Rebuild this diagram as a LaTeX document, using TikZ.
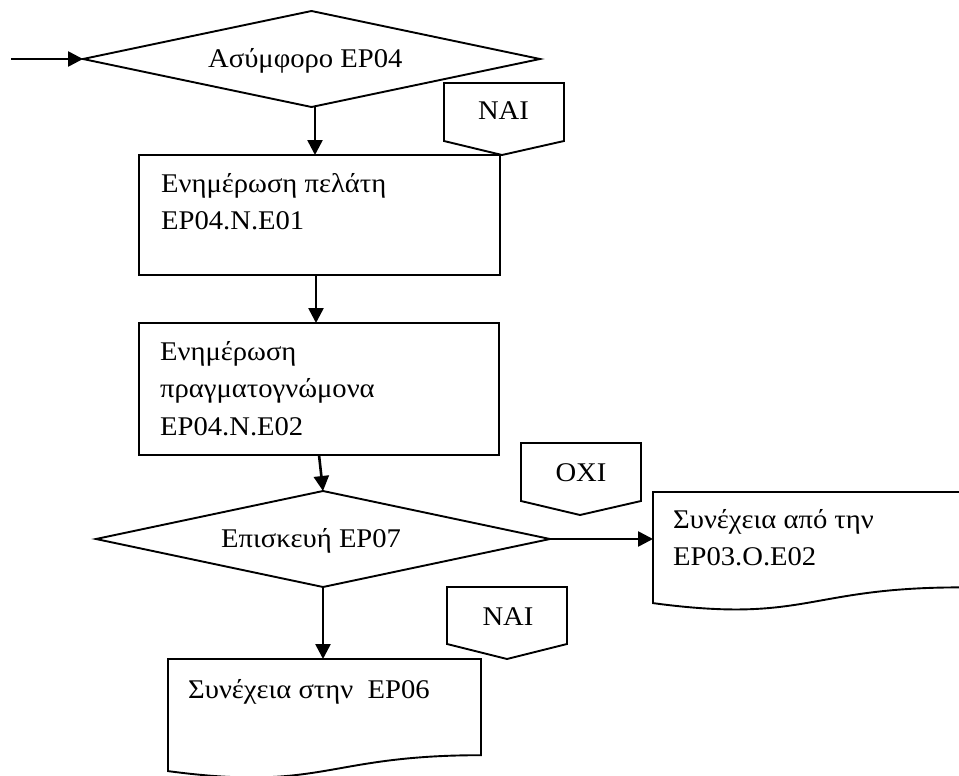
\documentclass[tikz,border=0pt]{standalone}
\usepackage{fontspec}
\setmainfont{Liberation Serif}[FakeStretch=1.06]
\usetikzlibrary{arrows.meta,shapes.geometric}
\begin{document}
\begin{tikzpicture}[x=1pt,y=-1pt,
  shp/.style={draw, line width=1.9pt, line join=miter},
  boxnode/.style={shp, rectangle, inner sep=0pt, outer sep=0pt},
  decnode/.style={shp, diamond, inner sep=0pt, outer sep=0pt},
  conn/.style={line width=2.6pt, -{Triangle[length=15pt,width=15pt]}},
  txt/.style={anchor=base west, inner sep=0pt, font=\fontsize{27}{31}\selectfont},
  ctxt/.style={anchor=base, inner sep=0pt, font=\fontsize{27}{31}\selectfont}]
\useasboundingbox (0,0) rectangle (959,776);

% decision 1
\node[decnode, minimum width=457pt, minimum height=96pt] (d1) at (311.5,59) {};
\node[txt] (d1t) at (208,67) {Ασύμφορο EP04};
\coordinate (start) at (11,59);

% NAI tag 1
\draw[shp] (444,83) -- (564,83) -- (564,141) -- (502,155) -- (444,141) -- cycle;
\node[ctxt] (nai1) at (503.5,120) {NAI};

% box 1
\node[boxnode, minimum width=361pt, minimum height=120pt] (b1) at (319.5,215) {};
\node[txt] (b1l1) at (161,192) {Ενημέρωση πελάτη};
\node[txt] (b1l2) at (161,229) {EP04.N.E01};

% box 2
\node[boxnode, minimum width=360pt, minimum height=132pt] (b2) at (319,389) {};
\node[txt] (b2l1) at (160,360) {Ενημέρωση};
\node[txt] (b2l2) at (160,397) {πραγματογνώμονα};
\node[txt] (b2l3) at (160,435) {EP04.N.E02};

% decision 2
\node[decnode, minimum width=454pt, minimum height=96pt] (d2) at (323,539) {};
\node[txt] (d2t) at (221,547) {Επισκευή EP07};

% OXI tag
\draw[shp] (521,443) -- (641,443) -- (641,501) -- (580,515) -- (521,501) -- cycle;
\node[ctxt] (oxi) at (581,481) {OXI};

% NAI tag 2
\draw[shp] (447,587) -- (567,587) -- (567,644) -- (507,659) -- (447,644) -- cycle;
\node[ctxt] (nai2) at (508,625) {NAI};

% document 2 (right)
\draw[shp] (653,492) -- (960,492) -- (960,587.4)
  .. controls (806.5,587.4) and (806.5,623.8) .. (653,603.1) -- cycle;
\coordinate (doc2in) at (653,539);
\node[txt] (doc2l1) at (673,528) {Συνέχεια από την};
\node[txt] (doc2l2) at (673,565) {EP03.O.E02};

% document 3 (bottom)
\draw[shp] (168,659) -- (481,659) -- (481,755.2)
  .. controls (324.5,755.2) and (324.5,791.9) .. (168,771.1) -- cycle;
\coordinate (doc3in) at (323,659);
\node[txt] (doc3l1) at (188,698) {Συνέχεια στην\ \ EP06};

% connectors
\draw[conn] (start) -- (d1.west);
\draw[conn] ([xshift=3.5pt]d1.south) -- ([xshift=-4.5pt]b1.north);
\draw[conn] ([xshift=-3.5pt]b1.south) -- ([xshift=-3pt]b2.north);
\draw[conn] (b2.south) -- (d2.north);
\draw[conn] (d2.east) -- (doc2in);
\draw[conn] (d2.south) -- (doc3in);
\end{tikzpicture}
\end{document}
